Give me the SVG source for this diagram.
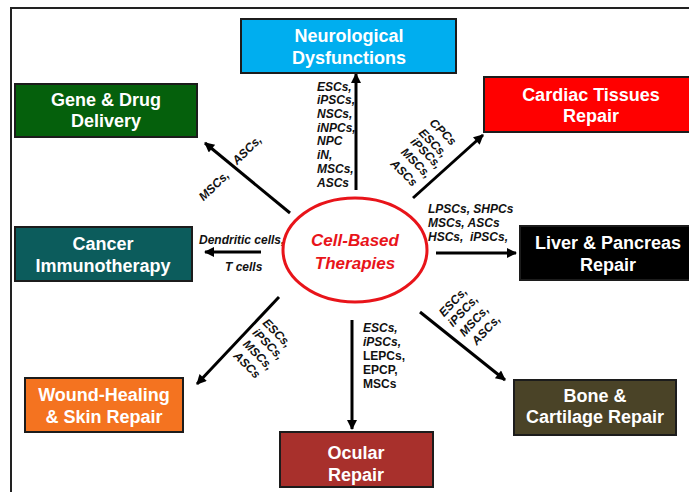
<svg xmlns="http://www.w3.org/2000/svg" width="689" height="492" viewBox="0 0 689 492">
  <defs>
    <marker id="head" viewBox="0 0 10 10" refX="9" refY="5" markerWidth="12" markerHeight="10" markerUnits="userSpaceOnUse" orient="auto">
      <path d="M0,0 L10,5 L0,10 Z" fill="#000"/>
    </marker>
    <style>
      .box { stroke: #1c1c1c; stroke-width: 2; }
      .title { font-family: "Liberation Sans", Arial, sans-serif; font-weight: bold; font-size: 18px; fill: #fff; text-anchor: middle; }
      .lbl { font-family: "Liberation Sans", Arial, sans-serif; font-weight: bold; font-style: italic; font-size: 12px; fill: #111; }
      .up { font-style: normal; }
      .mid { text-anchor: middle; }
      .arrow { stroke: #000; stroke-width: 3; fill: none; marker-end: url(#head); }
    </style>
  </defs>
  <rect width="689" height="492" fill="#fff"/>
  <!-- frame -->
  <path d="M11,492 V8 H689" fill="none" stroke="#222" stroke-width="2"/>

  <g id="connectors">
    <line class="arrow" x1="356" y1="190" x2="356" y2="74"/>
    <line class="arrow" x1="413" y1="198" x2="483" y2="135"/>
    <line class="arrow" x1="436" y1="253" x2="516" y2="253"/>
    <line class="arrow" x1="420" y1="312" x2="505" y2="380"/>
    <line class="arrow" x1="352" y1="320" x2="352" y2="429"/>
    <line class="arrow" x1="279" y1="297" x2="197" y2="384"/>
    <line class="arrow" x1="261" y1="252" x2="205" y2="252"/>
    <line class="arrow" x1="290" y1="213" x2="205" y2="143"/>
  </g>

  <g id="labels">
    <!-- neurological -->
    <text class="lbl" x="317" y="91">ESCs,</text>
    <text class="lbl" x="317" y="104">iPSCs,</text>
    <text class="lbl" x="317" y="118">NSCs,</text>
    <text class="lbl" x="317" y="132">iNPCs,</text>
    <text class="lbl" x="317" y="145">NPC</text>
    <text class="lbl" x="317" y="159">iN,</text>
    <text class="lbl" x="317" y="173">MSCs,</text>
    <text class="lbl" x="317" y="187">ASCs</text>
    <!-- cardiac -->
    <g class="lbl mid">
      <text transform="translate(443,132) rotate(45)" dy="4">CPCs</text>
      <text transform="translate(433,143) rotate(45)" dy="4">ESCs,</text>
      <text transform="translate(426,153) rotate(45)" dy="4">iPSCs,</text>
      <text transform="translate(416,163) rotate(45)" dy="4">MSCs,</text>
      <text transform="translate(404,173) rotate(45)" dy="4">ASCs</text>
    </g>
    <!-- liver -->
    <text class="lbl" x="428" y="213">LPSCs, SHPCs</text>
    <text class="lbl" x="428" y="227">MSCs, ASCs</text>
    <text class="lbl" x="428" y="241" xml:space="preserve">HSCs,  iPSCs,</text>
    <!-- bone -->
    <g class="lbl mid">
      <text transform="translate(453,302) rotate(-47)" dy="4">ESCs,</text>
      <text transform="translate(463,311) rotate(-47)" dy="4">iPSCs,</text>
      <text transform="translate(474,321) rotate(-47)" dy="4">MSCs,</text>
      <text transform="translate(486,330) rotate(-47)" dy="4">ASCs,</text>
    </g>
    <!-- ocular -->
    <text class="lbl" x="363" y="332">ESCs,</text>
    <text class="lbl" x="363" y="346">iPSCs,</text>
    <text class="lbl up" x="363" y="360">LEPCs,</text>
    <text class="lbl up" x="363" y="374">EPCP,</text>
    <text class="lbl up" x="363" y="388">MSCs</text>
    <!-- wound -->
    <g class="lbl mid">
      <text transform="translate(277,333) rotate(45)" dy="4">ESCs,</text>
      <text transform="translate(268,344) rotate(45)" dy="4">iPSCs,</text>
      <text transform="translate(258,355) rotate(45)" dy="4">MSCs,</text>
      <text transform="translate(247,365) rotate(45)" dy="4">ASCs</text>
    </g>
    <!-- cancer -->
    <text class="lbl" x="199" y="244">Dendritic cells,</text>
    <text class="lbl" x="225" y="271">T cells</text>
    <!-- gene -->
    <g class="lbl mid">
      <text transform="translate(214,186) rotate(-44)" dy="4">MSCs,</text>
      <text transform="translate(247,150) rotate(-44)" dy="4">ASCs,</text>
    </g>
  </g>

  <g id="center">
    <ellipse cx="355" cy="250" rx="72" ry="52" fill="#fff" stroke="#e8141a" stroke-width="3"/>
    <text x="355" y="246" font-family="Liberation Sans, Arial, sans-serif" font-weight="bold" font-style="italic" font-size="17" fill="#e8141a" text-anchor="middle">Cell-Based</text>
    <text x="355" y="269" font-family="Liberation Sans, Arial, sans-serif" font-weight="bold" font-style="italic" font-size="17" fill="#e8141a" text-anchor="middle">Therapies</text>
  </g>

  <g id="neuro">
    <rect class="box" x="241" y="19" width="215" height="54" fill="#00aeef"/>
    <text class="title" x="349" y="42">Neurological</text>
    <text class="title" x="349" y="64">Dysfunctions</text>
  </g>
  <g id="cardiac">
    <rect class="box" x="484" y="77" width="214" height="55" fill="#ff0000"/>
    <text class="title" x="591" y="101">Cardiac Tissues</text>
    <text class="title" x="591" y="122">Repair</text>
  </g>
  <g id="gene">
    <rect class="box" x="15" y="84" width="182" height="53" fill="#05600c"/>
    <text class="title" x="106" y="106">Gene &amp; Drug</text>
    <text class="title" x="106" y="127">Delivery</text>
  </g>
  <g id="cancer">
    <rect class="box" x="15" y="227" width="177" height="54" fill="#0c5c5c"/>
    <text class="title" x="103" y="250">Cancer</text>
    <text class="title" x="103" y="272">Immunotherapy</text>
  </g>
  <g id="liver">
    <rect class="box" x="520" y="226" width="178" height="54" fill="#000"/>
    <text class="title" x="608" y="249">Liver &amp; Pancreas</text>
    <text class="title" x="608" y="271">Repair</text>
  </g>
  <g id="wound">
    <rect class="box" x="25" y="378" width="158" height="54" fill="#f47320"/>
    <text class="title" x="104" y="401">Wound-Healing</text>
    <text class="title" x="104" y="423">&amp; Skin Repair</text>
  </g>
  <g id="bone">
    <rect class="box" x="514" y="380" width="162" height="55" fill="#4a4327"/>
    <text class="title" x="595" y="402">Bone &amp;</text>
    <text class="title" x="595" y="423">Cartilage Repair</text>
  </g>
  <g id="ocular">
    <rect class="box" x="280" y="432" width="153" height="55" fill="#a8302c"/>
    <text class="title" x="356" y="459">Ocular</text>
    <text class="title" x="356" y="481">Repair</text>
  </g>
</svg>
